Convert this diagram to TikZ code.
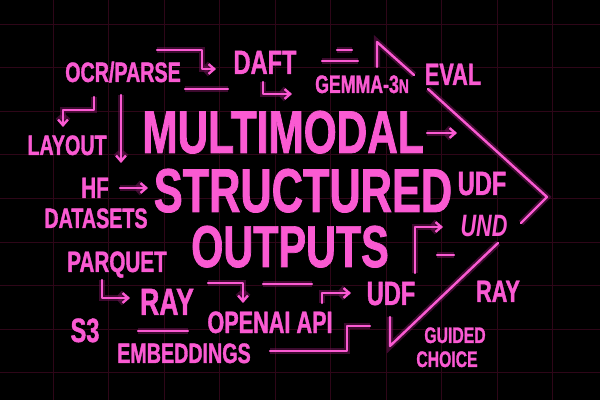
\documentclass[tikz,border=0pt]{standalone}
\usepackage{fontspec}
\newfontfamily\neonfont{Liberation Sans}[FakeStretch=0.7, BoldFeatures={FakeBold=1.2}]
\usetikzlibrary{arrows.meta}
\definecolor{neonpink}{RGB}{250,90,210}
\definecolor{glowpink}{RGB}{110,20,85}
\definecolor{gridred}{RGB}{46,6,24}

\begin{document}
\begin{tikzpicture}[x=0.025cm, y=-0.025cm,
    lbl/.style={text=neonpink, inner sep=0pt, anchor=base,
      font=\neonfont\bfseries\fontsize{#1}{#1}\selectfont},
    neon/.style={draw=neonpink, line width=1.7pt, line cap=round, line join=round,
      preaction={draw=glowpink, line width=4.5pt, opacity=0.55}},
    tip/.style={-{Straight Barb[length=4pt, width=7pt]}}]
      \fill[black] (0,0) rectangle (600,400);
      \useasboundingbox (0,0) rectangle (600,400);
      \foreach \i in {0,...,9} \draw[gridred, line width=0.5pt] (53+55.5*\i,0) -- (53+55.5*\i,400);
      \foreach \j in {0,...,8} \draw[gridred, line width=0.5pt] (0,24+43.6*\j) -- (600,24+43.6*\j);

      \node[lbl=43] (multi)   at (283,153) {MULTIMODAL};
      \node[lbl=44] (struct)  at (303,212) {STRUCTURED};
      \node[lbl=42] (outputs) at (290,267) {OUTPUTS};

      \node[lbl=20] (ocr)      at (123,82)  {OCR/PARSE};
      \node[lbl=24] (daft)     at (265,74)  {DAFT};
      \node[lbl=18] (gemma)    at (362,93)  {GEMMA-3{\fontsize{14}{14}\selectfont N}};
      \node[lbl=22] (eval)     at (453,85)  {EVAL};
      \node[lbl=20] (layout)   at (67,155)  {LAYOUT};
      \node[lbl=21] (hf)       at (95,198)  {HF};
      \node[lbl=20] (datasets) at (96,228)  {DATASETS};
      \node[lbl=21] (parquet)  at (117,272) {PARQUET};
      \node[lbl=27] (ray)      at (167,315) {RAY};
      \node[lbl=24] (s3)       at (85,342)  {S3};
      \node[lbl=20] (embed)    at (184,363) {EMBEDDINGS};
      \node[lbl=22] (openai)   at (270,333) {OPENAI API};
      \node[lbl=24] (udfbot)   at (391,305) {UDF};
      \node[lbl=22] (rayright) at (498,302) {RAY};
      \node[lbl=16] (guided)   at (455,343) {GUIDED};
      \node[lbl=16] (choice)   at (447,367) {CHOICE};
      \node[lbl=24] (udfright) at (482,195) {UDF};
      \node[lbl=22] (und)      at (484,237) {\itshape UND};

      \draw[neon] (377,67) -- (377,42) -- (414,75);
      \draw[neon] (428,89) -- (547,197) -- (521,223);
      \draw[neon] (498,243) -- (390,346) -- (390,317);

      \draw[neon, tip] (157,50) -- (202,50) -- (202,69) -- (216,69);
      \draw[neon] (185,89) -- (228,89);
      \draw[neon, tip] (263,82) -- (263,94) -- (292,94);
      \draw[neon] (337,50) -- (352,50);
      \draw[neon] (322,61) -- (358,61);
      \draw[neon, tip] (94,97) -- (94,110) -- (63,110) -- (63,127);
      \draw[neon, tip] (121,95) -- (121,163);
      \draw[neon, tip] (120,188) -- (148,188);
      \draw[neon, tip] (427,133) -- (457,133);
      \draw[neon, tip] (102,280) -- (102,298) -- (130,298);
      \draw[neon] (138,331) -- (188,331);
      \draw[neon, tip] (208,283) -- (243,283) -- (243,303);
      \draw[neon] (263,284) -- (312,284);
      \draw[neon, tip] (322,303) -- (322,293) -- (351,293);
      \draw[neon] (270,351) -- (347,351) -- (347,326) -- (370,326);
      \draw[neon, tip] (415,273) -- (415,227) -- (443,227);
      \draw[neon] (437,255) -- (454,255);
    \end{tikzpicture}
\end{document}
